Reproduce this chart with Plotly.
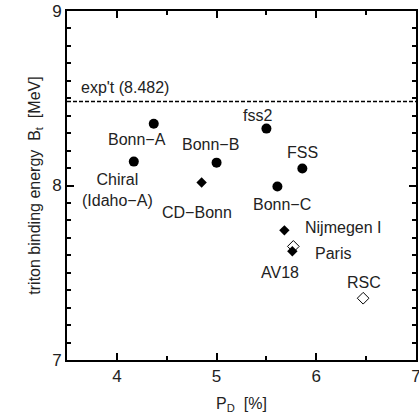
import plotly.graph_objects as go

# data
circle_names = ["Bonn−A", "Chiral<br>(Idaho−A)", "Bonn−B", "fss2", "FSS", "Bonn−C"]
circle_pd = [4.37, 4.17, 5.00, 5.50, 5.86, 5.61]
circle_bt = [8.354, 8.137, 8.131, 8.326, 8.097, 7.994]

fdiam_names = ["CD−Bonn", "Nijmegen I", "AV18"]
fdiam_pd = [4.85, 5.68, 5.76]
fdiam_bt = [8.017, 7.743, 7.623]

odiam_names = ["Paris", "RSC"]
odiam_pd = [5.77, 6.47]
odiam_bt = [7.651, 7.354]

exp_bt = 8.482
exp_label = "exp't (8.482)"

# label offsets (px) and anchors
offsets = {
    "Bonn−A": (-17, -16, "center"),
    "Chiral<br>(Idaho−A)": (-16, -28, "center"),
    "Bonn−B": (-6, 18, "center"),
    "fss2": (-9, 13, "center"),
    "FSS": (0, 16, "center"),
    "Bonn−C": (5, -18, "center"),
    "CD−Bonn": (-5, -30, "center"),
    "Nijmegen I": (19, 3, "left"),
    "AV18": (-12, -21, "center"),
    "Paris": (20, -7, "left"),
    "RSC": (1, 16, "center"),
}

FONT = "Liberation Sans, Arial, Helvetica, sans-serif"

fig = go.Figure()
fig.add_trace(go.Scatter(x=circle_pd, y=circle_bt, mode="markers",
                         marker=dict(symbol="circle", size=10, color="black"),
                         showlegend=False))
fig.add_trace(go.Scatter(x=odiam_pd, y=odiam_bt, mode="markers",
                         marker=dict(symbol="diamond-open", size=9, color="black",
                                     line=dict(width=1, color="black")),
                         showlegend=False))
fig.add_trace(go.Scatter(x=fdiam_pd, y=fdiam_bt, mode="markers",
                         marker=dict(symbol="diamond", size=8, color="black"),
                         showlegend=False))

annotations = []
for names, xs, ys in [(circle_names, circle_pd, circle_bt),
                      (fdiam_names, fdiam_pd, fdiam_bt),
                      (odiam_names, odiam_pd, odiam_bt)]:
    for n, x, y in zip(names, xs, ys):
        dx, dy, anc = offsets[n]
        annotations.append(dict(x=x, y=y, text=n, showarrow=False,
                                xshift=dx, yshift=dy, xanchor=anc, yanchor="middle",
                                font=dict(size=16, color="#222", family=FONT)))

annotations.append(dict(x=3.62, y=exp_bt, text=exp_label, showarrow=False,
                        xanchor="left", yanchor="bottom", yshift=3,
                        font=dict(size=16, color="#222", family=FONT)))

fig.add_shape(type="line", xref="paper", x0=0, x1=1, y0=exp_bt, y1=exp_bt,
              line=dict(color="black", width=1.5, dash="4px,2px"))

axis_common = dict(showgrid=False, zeroline=False, showline=True, linecolor="black",
                   linewidth=2, mirror="ticks", ticks="inside", ticklen=7,
                   tickwidth=1.5, tickcolor="black", ticklabeloverflow="allow",
                   tickfont=dict(size=17, color="#222", family=FONT))

fig.update_xaxes(range=[3.5, 7], tickvals=[4, 5, 6, 7],
                 minor=dict(dtick=0.5, ticks="inside", ticklen=4,
                            tickcolor="black", tickwidth=1.5),
                 title=dict(text="P<sub>D</sub>  [%]", standoff=12,
                            font=dict(size=16, color="#222", family=FONT)),
                 **axis_common)
fig.update_yaxes(range=[7, 9], tickvals=[7, 8, 9],
                 minor=dict(dtick=0.1, ticks="inside", ticklen=4,
                            tickcolor="black", tickwidth=1.5),
                 title=dict(text="triton binding energy  B<sub>t</sub>  [MeV]", standoff=8,
                            font=dict(size=16, color="#222", family=FONT)),
                 **axis_common)

fig.update_layout(width=419, height=419, margin=dict(l=67, r=3, t=11, b=59, autoexpand=False),
                  plot_bgcolor="white", paper_bgcolor="white",
                  annotations=annotations)

fig.write_html("out.html", config={"displayModeBar": False},
               post_script="document.body.style.margin='0';")
